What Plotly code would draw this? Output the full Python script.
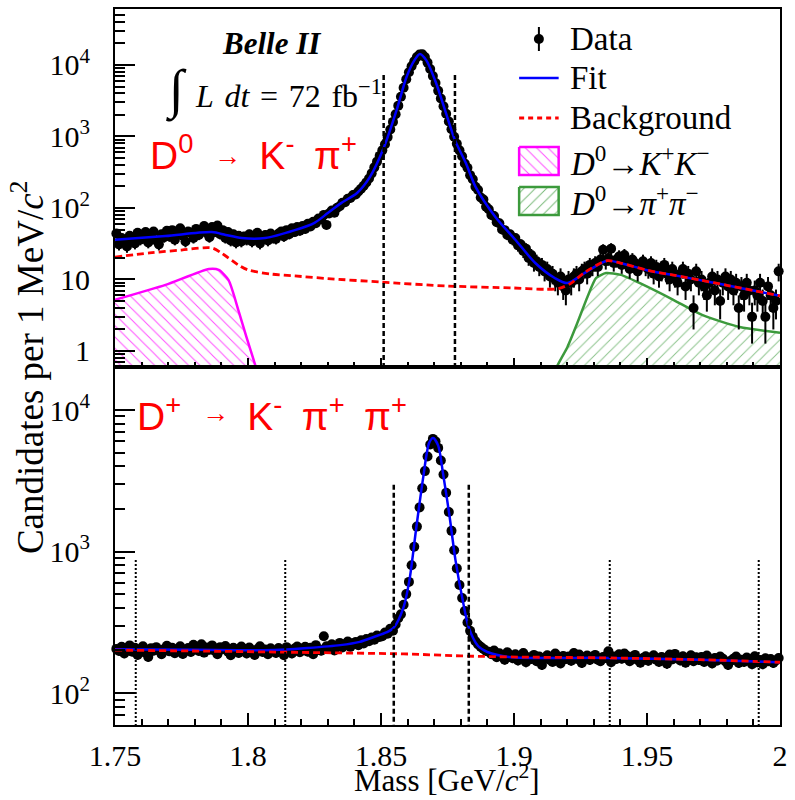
import numpy as np
import plotly.graph_objects as go

# ---------------- data ----------------
bin_lo, bin_w, n_bins = 1.750, 0.001, 250   # 1 MeV bins, 1.75-2.00 GeV

# D0 -> K- pi+ candidates per bin
top_counts = [
    44, 31, 38, 35, 29, 41, 37, 32, 45, 36,
    38, 46, 33, 40, 47, 35, 31, 43, 39, 48,
    40, 49, 36, 44, 52, 41, 34, 47, 45, 38,
    51, 42, 48, 56, 45, 39, 54, 46, 57, 43,
    49, 38, 46, 35, 43, 33, 41, 34, 40, 36,
    43, 34, 39, 45, 32, 38, 42, 35, 44, 38,
    37, 44, 47, 40, 49, 43, 52, 46, 54, 48,
    56, 51, 60, 55, 64, 61, 71, 69, 80, 58,
    84, 92, 86, 101, 106, 118, 120, 135, 138, 152,
    155, 170, 186, 205, 228, 258, 305, 370, 445, 535,
    640, 780, 980, 1250, 1600, 2050, 2700, 3600, 4800, 6300,
    7900, 9600, 11300, 12900, 14000, 14100, 12900, 10800, 8800, 7000,
    5600, 4350, 3400, 2650, 2080, 1620, 1260, 990, 790, 640,
    530, 420, 365, 288, 252, 198, 178, 140, 131, 104,
    96, 80, 77, 63, 61, 50, 49, 42, 43, 36,
    38, 30, 31, 25, 27, 20, 22, 17, 18, 15,
    16, 13, 14, 11, 12, 10, 9, 11, 8, 7,
    10, 9, 11, 12, 10, 13, 14, 12, 16, 15,
    17, 15, 19, 26, 18, 20, 27, 17, 19, 21,
    16, 22, 18, 14, 19, 17, 13, 16, 18, 15,
    14, 17, 12, 15, 11, 13, 16, 12, 10, 14,
    11, 9, 12, 14, 8, 12, 10, 4, 13, 9,
    10, 8, 6, 9, 11, 7, 10, 5, 9, 11,
    8, 10, 7, 9, 4, 8, 6, 9, 7, 3,
    7, 6, 9, 5, 3, 8, 6, 4, 5, 13,
]

# D+ -> K- pi+ pi+ candidates per bin
bot_counts = [
    205, 198, 212, 190, 203, 217, 196, 209, 186, 201,
    214, 193, 180, 207, 199, 211, 202, 188, 205, 216,
    197, 209, 191, 203, 214, 189, 200, 208, 195, 219,
    206, 198, 221, 193, 210, 202, 217, 199, 188, 211,
    204, 215, 196, 185, 209, 201, 192, 213, 205, 190,
    210, 199, 186, 204, 214, 195, 203, 188, 207, 198,
    192, 208, 201, 185, 211, 197, 190, 206, 213, 194,
    203, 212, 196, 209, 188, 218, 205, 199, 252, 214,
    207, 221, 200, 215, 226, 210, 219, 231, 212, 225,
    229, 218, 236, 224, 241, 232, 247, 238, 255, 249,
    252, 268, 262, 285, 276, 305, 338, 360, 420, 500,
    610, 800, 1080, 1500, 2050, 2800, 3700, 4700, 5700, 6250,
    6000, 5400, 4400, 3500, 2600, 1900, 1400, 1020, 760, 580,
    470, 380, 315, 275, 250, 232, 220, 212, 205, 198,
    196, 188, 200, 179, 191, 185, 172, 194, 181, 176,
    188, 170, 183, 192, 165, 179, 174, 186, 168, 181,
    158, 177, 185, 171, 166, 190, 176, 162, 183, 174,
    181, 169, 192, 175, 187, 163, 178, 184, 171, 179,
    186, 172, 168, 180, 177, 197, 165, 181, 174, 188,
    175, 190, 183, 168, 179, 186, 171, 164, 177, 182,
    169, 178, 185, 172, 166, 180, 175, 161, 187, 173,
    189, 176, 170, 182, 164, 174, 185, 168, 179, 171,
    180, 166, 184, 173, 162, 177, 170, 181, 175, 167,
    158, 169, 175, 181, 163, 172, 166, 178, 170, 160,
    182, 165, 171, 160, 176, 168, 174, 163, 170, 177,
]

# fit components, top panel (D0 -> K pi)
fit_top_x = [1.750, 1.769, 1.7864, 1.7916, 1.7976, 1.8065, 1.8176, 1.825, 1.830, 1.835,
             1.841, 1.8458, 1.851, 1.8559, 1.8596, 1.8626, 1.8646, 1.867, 1.8707, 1.8744,
             1.8778, 1.8819, 1.8856, 1.893, 1.9005, 1.908, 1.9153, 1.9201, 1.9265, 1.935,
             1.940, 1.950, 1.960, 1.970, 1.980, 1.990, 2.000]
fit_top_y = [36, 40.5, 46, 42, 38, 38, 49, 62, 85, 117,
             162, 270, 690, 2350, 6800, 11700, 14300, 11700, 5600, 2140,
             890, 425, 196, 75, 36, 17, 10.5, 8.9, 12.3, 18.3,
             17, 13.5, 11.5, 9.8, 8.3, 7.0, 5.9]

bkg_top_x = [1.750, 1.763, 1.775, 1.7864, 1.790, 1.7964, 1.800, 1.8087, 1.8176, 1.830,
             1.850, 1.875, 1.900, 1.912, 1.917, 1.9215, 1.9265, 1.935, 1.940, 1.950,
             1.960, 1.970, 1.980, 1.990, 2.000]
bkg_top_y = [20.6, 23.5, 25.8, 27.6, 23.5, 15.9, 13.6, 11.9, 11.2, 10.3,
             9.2, 8.1, 7.6, 7.3, 7.5, 8.9, 12.5, 18.3, 17, 13.5,
             11.5, 9.8, 8.3, 7.0, 5.9]

kk_x = [1.750, 1.769, 1.7853, 1.789, 1.7927, 1.7964, 1.7994, 1.8027, 1.806]
kk_y = [5.2, 8.4, 14.0, 13.6, 9.8, 3.7, 1.57, 0.64, 0.25]

pipi_x = [1.914, 1.9161, 1.9201, 1.9238, 1.9276, 1.9309, 1.9346, 1.9402, 1.9487, 1.9599,
          1.9707, 1.9848, 2.000]
pipi_y = [0.33, 0.6, 1.14, 2.46, 5.7, 10.5, 12.3, 11.6, 8.4, 5.2,
          3.2, 2.16, 1.8]

# fit components, bottom panel (D+ -> K pi pi)
fit_bot_x = [1.750, 1.780, 1.810, 1.8224, 1.8347, 1.842, 1.8473, 1.852, 1.8548, 1.8585,
             1.8607, 1.8633, 1.8659, 1.8681, 1.8696, 1.8715, 1.8733, 1.8756, 1.878, 1.8807,
             1.883, 1.8865, 1.890, 1.898, 1.935, 1.970, 2.000]
fit_bot_y = [204, 202, 201, 208, 218, 230, 249, 268, 290, 405,
             630, 1490, 3370, 5860, 6340, 5600, 3580, 1870, 870, 455,
             290, 215, 195, 180, 177, 172, 165]

bkg_bot_x = [1.750, 1.800, 1.835, 1.8585, 1.880, 1.898, 1.935, 1.970, 2.000]
bkg_bot_y = [201, 196, 192, 189, 183, 180, 177, 172, 165]

# signal-window and sideband boundaries [GeV]
win_top = [1.851, 1.8778]
win_top_height = 7240
win_bot = [1.8548, 1.883]
win_bot_height = 2960
sb_bot = [1.7578, 1.814, 1.936, 1.992]
sb_bot_height = 870

x_tickvals = [1.75, 1.8, 1.85, 1.9, 1.95, 2.0]
x_ticktext = ["1.75", "1.8", "1.85", "1.9", "1.95", "2"]

y_tickvals = [1, 10, 100, 1000, 10000]
y_ticktext = ["1", "10", "10<sup>2</sup>", "10<sup>3</sup>", "10<sup>4</sup>"]

legend_labels = ["Data", "Fit", "Background",
                 "<i>D</i><sup>0</sup>\u2192<i>K</i><sup>+</sup><i>K</i><sup>\u2212</sup>",
                 "<i>D</i><sup>0</sup>\u2192<i>\u03c0</i><sup>+</sup><i>\u03c0</i><sup>\u2212</sup>"]

# ---------------- style ----------------
mass = [round(bin_lo + bin_w * (i + 0.5), 4) for i in range(n_bins)]
BLUE = "#0000ff"
RED = "#ff0000"
MAG = "#ff00ff"
GRN = "#3c9a3c"
SERIF = "Liberation Serif"
SANS = "Liberation Sans"

W, H = 795, 800
PL, PR, PT, PB = 115, 788, 9, 725   # plot-area pixel box
TOP_BOTTOM_LOG = -0.224
TOP_TOP_LOG = 4.783
BOT_BOTTOM_LOG = 1.774
BOT_TOP_LOG = 4.304


def px(x):
    return (x - PL) / (PR - PL)


def py(y):
    return (PB - y) / (PB - PT)


fig = go.Figure()

# ---- top panel ----
fig.add_trace(go.Scatter(x=kk_x, y=kk_y, xaxis="x", yaxis="y", mode="lines",
                         line=dict(color=MAG, width=2.5, shape="spline", smoothing=0.6),
                         fill="tozeroy", fillcolor="rgba(0,0,0,0)",
                         fillpattern=dict(shape="\\", fgcolor=MAG, bgcolor="rgba(0,0,0,0)",
                                          size=8, solidity=0.12, fgopacity=0.7),
                         showlegend=False))
fig.add_trace(go.Scatter(x=pipi_x, y=pipi_y, xaxis="x", yaxis="y", mode="lines",
                         line=dict(color=GRN, width=2.5, shape="spline", smoothing=0.6),
                         fill="tozeroy", fillcolor="rgba(0,0,0,0)",
                         fillpattern=dict(shape="/", fgcolor=GRN, bgcolor="rgba(0,0,0,0)",
                                          size=8, solidity=0.12, fgopacity=0.6),
                         showlegend=False))
top_err = np.sqrt(np.array(top_counts, dtype=float))
fig.add_trace(go.Scatter(x=mass, y=top_counts, xaxis="x", yaxis="y", mode="markers",
                         marker=dict(color="black", size=10),
                         error_y=dict(type="data", array=top_err, color="black",
                                      thickness=2, width=0),
                         cliponaxis=False, showlegend=False))
fig.add_trace(go.Scatter(x=fit_top_x, y=fit_top_y, xaxis="x", yaxis="y", mode="lines",
                         line=dict(color=BLUE, width=2.5, shape="spline", smoothing=0.8),
                         showlegend=False))
fig.add_trace(go.Scatter(x=bkg_top_x, y=bkg_top_y, xaxis="x", yaxis="y", mode="lines",
                         line=dict(color=RED, width=2.8, dash="7px,4px", shape="spline",
                                   smoothing=0.8),
                         showlegend=False))
for xv in win_top:
    fig.add_trace(go.Scatter(x=[xv, xv], y=[win_top_height, 10 ** TOP_BOTTOM_LOG],
                             xaxis="x", yaxis="y", mode="lines",
                             line=dict(color="black", width=2.5, dash="5px,3px"),
                             showlegend=False))

# ---- bottom panel ----
bot_err = np.sqrt(np.array(bot_counts, dtype=float))
fig.add_trace(go.Scatter(x=mass, y=bot_counts, xaxis="x2", yaxis="y2", mode="markers",
                         marker=dict(color="black", size=10),
                         error_y=dict(type="data", array=bot_err, color="black",
                                      thickness=2, width=0),
                         cliponaxis=False, showlegend=False))
fig.add_trace(go.Scatter(x=fit_bot_x, y=fit_bot_y, xaxis="x2", yaxis="y2", mode="lines",
                         line=dict(color=BLUE, width=2.5, shape="spline", smoothing=0.8),
                         showlegend=False))
fig.add_trace(go.Scatter(x=bkg_bot_x, y=bkg_bot_y, xaxis="x2", yaxis="y2", mode="lines",
                         line=dict(color=RED, width=2.8, dash="7px,4px", shape="spline"),
                         showlegend=False))
for xv in win_bot:
    fig.add_trace(go.Scatter(x=[xv, xv], y=[win_bot_height, 10 ** BOT_BOTTOM_LOG],
                             xaxis="x2", yaxis="y2", mode="lines",
                             line=dict(color="black", width=2.5, dash="5px,3px"),
                             showlegend=False))
for xv in sb_bot:
    fig.add_trace(go.Scatter(x=[xv, xv], y=[sb_bot_height, 10 ** BOT_BOTTOM_LOG],
                             xaxis="x2", yaxis="y2", mode="lines",
                             line=dict(color="black", width=2, dash="2px,2px"),
                             showlegend=False))

# ---- hand-made legend (pixel coordinates on a hidden overlay axis) ----
LEG_X0, LEG_X1, LEG_TX = 524, 564, 573
LEG_ROWS = [39, 78, 118, 161, 201]
LEG_BOX_H = 14
xc = (LEG_X0 + LEG_X1) / 2
fig.add_trace(go.Scatter(x=[xc], y=[LEG_ROWS[0]], xaxis="x3", yaxis="y3", mode="markers",
                         marker=dict(color="black", size=10),
                         error_y=dict(type="constant", value=12, color="black",
                                      thickness=2, width=0),
                         showlegend=False))
fig.add_trace(go.Scatter(x=[LEG_X0, LEG_X1], y=[LEG_ROWS[1]] * 2, xaxis="x3", yaxis="y3",
                         mode="lines", line=dict(color=BLUE, width=2.5), showlegend=False))
fig.add_trace(go.Scatter(x=[LEG_X0, LEG_X1], y=[LEG_ROWS[2]] * 2, xaxis="x3", yaxis="y3",
                         mode="lines", line=dict(color=RED, width=2.8, dash="5px,4px"),
                         showlegend=False))
for row, col, shp in [(LEG_ROWS[3], MAG, "\\"), (LEG_ROWS[4], GRN, "/")]:
    fig.add_trace(go.Scatter(
        x=[LEG_X0, LEG_X1, LEG_X1, LEG_X0, LEG_X0],
        y=[row - LEG_BOX_H, row - LEG_BOX_H, row + LEG_BOX_H, row + LEG_BOX_H, row - LEG_BOX_H],
        xaxis="x3", yaxis="y3", mode="lines", fill="toself", fillcolor="rgba(0,0,0,0)",
        fillpattern=dict(shape=shp, fgcolor=col, bgcolor="rgba(0,0,0,0)", size=8,
                         solidity=0.12, fgopacity=0.7),
        line=dict(color=col, width=2.5), showlegend=False))

annotations = []
for lab, row in zip(legend_labels, LEG_ROWS):
    annotations.append(dict(x=px(LEG_TX), y=py(row), xref="paper", yref="paper",
                            text=lab, showarrow=False, xanchor="left", yanchor="middle",
                            font=dict(family=SERIF, size=33, color="black")))

SP = "\u2002"                                             # en space
GAP = "<span style='font-size:27px'>\u2003</span>"       # room for the arrow glyph
TS = "\u2004"                                             # three-per-em space
annotations += [
    dict(x=px(273), y=py(44), xref="paper", yref="paper", text="<b><i>Belle II</i></b>",
         showarrow=False, xanchor="center", yanchor="middle",
         font=dict(family=SERIF, size=31, color="black")),
    dict(x=px(177), y=py(90), xref="paper", yref="paper", text="\u222b",
         showarrow=False, xanchor="center", yanchor="middle",
         font=dict(family=SERIF, size=54, color="black")),
    dict(x=px(194), y=py(94), xref="paper", yref="paper",
         text="<i>L</i>" + TS + "<i>dt</i>" + TS + "=" + TS + "72" + TS + "fb<sup>\u22121</sup>",
         showarrow=False, xanchor="left", yanchor="middle",
         font=dict(family=SERIF, size=32, color="black")),
    dict(x=px(148), y=py(152), xref="paper", yref="paper",
         text="D<sup>0</sup>" + SP + GAP + SP + "K<sup>-</sup>" + SP + "\u03c0<sup>+</sup>",
         showarrow=False, xanchor="left", yanchor="middle",
         font=dict(family=SANS, size=39, color=RED)),
    dict(x=px(229), y=py(156), xref="paper", yref="paper", text="\u2192",
         showarrow=False, xanchor="center", yanchor="middle",
         font=dict(family=SANS, size=27, color=RED)),
    dict(x=px(135), y=py(414), xref="paper", yref="paper",
         text="D<sup>+</sup>" + SP + GAP + SP + "K<sup>-</sup>" + SP + "\u03c0<sup>+</sup>"
              + SP + "\u03c0<sup>+</sup>",
         showarrow=False, xanchor="left", yanchor="middle",
         font=dict(family=SANS, size=39, color=RED)),
    dict(x=px(217), y=py(413), xref="paper", yref="paper", text="\u2192",
         showarrow=False, xanchor="center", yanchor="middle",
         font=dict(family=SANS, size=27, color=RED)),
    dict(x=px(26), y=py(367), xref="paper", yref="paper",
         text="Candidates per 1 MeV/<i>c</i><sup>2</sup>", textangle=-90,
         showarrow=False, xanchor="center", yanchor="middle",
         font=dict(family=SERIF, size=37, color="black")),
    dict(x=px(451), y=py(778), xref="paper", yref="paper",
         text="Mass [GeV/<i>c</i><sup>2</sup>]",
         showarrow=False, xanchor="center", yanchor="middle",
         font=dict(family=SERIF, size=31, color="black")),
]

tickfont = dict(family=SERIF, size=30, color="black")
common_x = dict(range=[1.75, 2.0], showgrid=False, zeroline=False, showline=True,
                linecolor="black", linewidth=2, mirror=True, ticks="inside",
                tickwidth=2, tickcolor="black", tickvals=x_tickvals, ticktext=x_ticktext,
                tickfont=tickfont)
common_y = dict(type="log", tickmode="array", tickvals=y_tickvals, ticktext=y_ticktext,
                showgrid=False, zeroline=False, showline=True, linecolor="black",
                linewidth=2, mirror=True, ticks="inside", ticklen=20, tickwidth=2,
                tickcolor="black", tickfont=tickfont, ticklabelstandoff=17,
                minor=dict(ticks="inside", ticklen=10, tickwidth=2, tickcolor="black",
                           tickmode="linear", dtick="D1", showgrid=False))

fig.update_layout(
    width=W, height=H,
    margin=dict(l=PL, r=W - PR, t=PT, b=H - PB, pad=0),
    paper_bgcolor="white", plot_bgcolor="rgba(0,0,0,0)",
    showlegend=False,
    xaxis=dict(domain=[0, 1], anchor="y", showticklabels=False, ticklen=9,
               minor=dict(ticks="inside", ticklen=5, tickwidth=2, tickcolor="black",
                          dtick=0.01, tick0=1.75),
               **common_x),
    yaxis=dict(domain=[0.5, 1], anchor="x", range=[TOP_BOTTOM_LOG, TOP_TOP_LOG], **common_y),
    xaxis2=dict(domain=[0, 1], anchor="y2", showticklabels=True, ticklen=12,
                ticklabelstandoff=3,
                minor=dict(ticks="inside", ticklen=6, tickwidth=2, tickcolor="black",
                           dtick=0.01, tick0=1.75),
                **common_x),
    yaxis2=dict(domain=[0, 0.5], anchor="x2", range=[BOT_BOTTOM_LOG, BOT_TOP_LOG], **common_y),
    xaxis3=dict(domain=[0, 1], anchor="y3", range=[PL, PR], visible=False, fixedrange=True),
    yaxis3=dict(domain=[0, 1], anchor="x3", range=[PB, PT], visible=False, fixedrange=True),
    annotations=annotations,
)

fig.write_html("out.html")
